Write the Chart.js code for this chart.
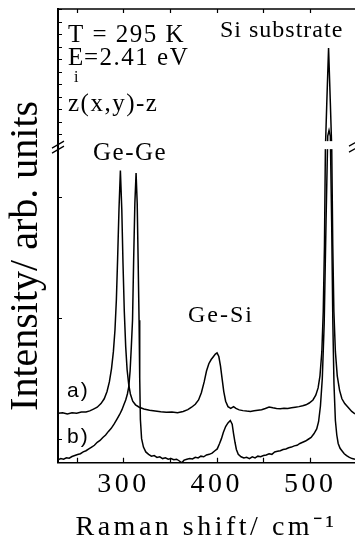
<!DOCTYPE html>
<html>
<head>
<meta charset="utf-8">
<script src="https://cdn.jsdelivr.net/npm/chart.js@4.4.1/dist/chart.umd.min.js"></script>
<style>
  html, body { margin: 0; padding: 0; background: #fff; }
  #raman { display: block; }
</style>
</head>
<body>
<canvas id="raman" width="355" height="544"></canvas>
<script>
// Raman spectra of the two samples (arb. units)
const shiftA = [230, 235, 240, 245, 250, 255, 260, 264, 268, 272, 276, 279.5, 282.5, 285, 287.3, 289.3,
  291, 292.5, 293.8, 295.3, 296.8, 298.3, 299.6, 301, 302.5, 304, 305.7, 307.5, 310, 313, 317, 322,
  328, 334, 340, 346, 352, 358, 364, 369, 373, 377, 380.5, 383.5, 386.5, 389, 391.5, 394, 396.5,
  398.5, 400.3, 402.2, 404, 405.8, 407.5, 409.5, 412, 415, 418, 420.5, 424, 428, 432, 436, 440, 444,
  448, 452, 456, 460, 464, 468, 472, 476, 480, 484, 488, 492, 495.5, 499, 503, 506, 508.5, 510.5,
  512.5, 514, 515.3, 516.3, 517.8, 519.7, 521.6, 523.1, 524.2, 525.4, 527, 529, 531.5, 534, 537, 541,
  544.5, 548];
const intensityA = [0.21, 0.215, 0.205, 0.215, 0.21, 0.22, 0.22, 0.23, 0.245, 0.26, 0.29, 0.33, 0.39, 0.47, 0.58, 0.72,
  0.9, 1.15, 1.48, 1.9, 2.22, 1.9, 1.45, 1.05, 0.76, 0.57, 0.45, 0.37, 0.31, 0.28, 0.26, 0.245,
  0.235, 0.228, 0.222, 0.218, 0.22, 0.215, 0.225, 0.24, 0.26, 0.285, 0.32, 0.38, 0.47, 0.56, 0.62, 0.655, 0.68,
  0.7, 0.71, 0.68, 0.6, 0.49, 0.39, 0.31, 0.265, 0.25, 0.265, 0.25, 0.238, 0.232, 0.228, 0.225, 0.23, 0.235,
  0.24, 0.25, 0.262, 0.255, 0.25, 0.248, 0.252, 0.25, 0.255, 0.26, 0.265, 0.272, 0.28, 0.295, 0.32, 0.36, 0.42, 0.52,
  0.72, 1.05, 1.6, 2.4, 5.5, 9.88, 5.5, 2.4, 1.6, 1.05, 0.72, 0.52, 0.4, 0.33, 0.29, 0.255,
  0.225, 0.205];

const shiftB = [230, 233, 236, 239, 242, 245, 248, 251, 254, 257, 260, 263, 266, 269, 272, 275, 278, 281,
  284, 287, 290, 293, 296, 298.5, 300.5, 302.5, 304.3, 305.8, 307.2, 308.5, 309.8, 311, 312.3, 313.6,
  314.8, 315.8, 316.8, 317.5, 318.2, 319.5, 321.5, 324, 327, 330, 333, 336, 339, 342, 345, 348, 351,
  354, 357, 360, 362.5, 365, 368, 371, 374, 377, 380, 383, 386, 389, 392, 395, 398, 400.5, 403, 405,
  407, 409.5, 412, 414.5, 416.5, 418, 419.5, 421, 423, 426, 429, 432, 435, 438, 441, 444, 447, 450,
  453, 456, 459, 462, 465, 468, 471, 474, 477, 480, 483, 486, 489, 492, 495, 498, 501, 504, 507, 509,
  511, 513, 515, 517, 518.8, 520.2, 521.6, 523, 524.3, 525.5, 527, 528.5, 530, 532, 534, 536.5, 539,
  542, 545, 548];
const intensityB = [-0.175, -0.165, -0.17, -0.158, -0.162, -0.148, -0.14, -0.132, -0.125, -0.11, -0.1, -0.085, -0.07, -0.055, -0.03, -0.015, 0.01, 0.03,
  0.06, 0.085, 0.12, 0.16, 0.2, 0.24, 0.28, 0.32, 0.37, 0.43, 0.56, 0.76, 0.98, 1.48, 1.95, 2.2,
  1.95, 1.48, 0.98, 0.5, 0.16, 0.0, -0.07, -0.11, -0.13, -0.145, -0.14, -0.155, -0.15, -0.165, -0.158, -0.17, -0.165,
  -0.175, -0.17, -0.185, -0.2, -0.178, -0.17, -0.165, -0.168, -0.155, -0.16, -0.145, -0.15, -0.135, -0.13, -0.12, -0.1, -0.085, -0.04, 0.0,
  0.05, 0.1, 0.13, 0.15, 0.12, 0.04, -0.03, -0.09, -0.13, -0.15, -0.16, -0.155, -0.165, -0.15, -0.16, -0.145, -0.15, -0.14,
  -0.135, -0.125, -0.13, -0.11, -0.105, -0.1, -0.09, -0.085, -0.075, -0.07, -0.06, -0.055, -0.04, -0.03, -0.02, -0.005, 0.01, 0.04, 0.08, 0.14,
  0.27, 0.5, 0.95, 1.8, 2.85, 3.3, 2.85, 1.8, 0.95, 0.45, 0.15, 0.03, -0.04, -0.08, -0.1, -0.125, -0.14,
  -0.155, -0.165, -0.17];

// axes
const xTickValues = [250, 300, 350, 400, 450, 500];
const xTickLabels = ['', '300', '', '400', '', '500'];
const yTickValues = [0, 1, 2, 3, 4, 5, 6, 7, 8, 9, 10, 11, 12, 13];
const yBreakLow = 2.43;   // top of the lower part of the broken axis
const yBreakHigh = 2.12;  // bottom of the compressed upper part
const breakFraction = 0.7;

// y axis with a break: linear below, compressed above
class BrokenScale extends Chart.LinearScale {
  buildTicks() {
    return yTickValues.map(value => ({ value }));
  }
  getPixelForValue(value) {
    const h = this.bottom - this.top;
    const lowH = h * breakFraction;
    if (value <= yBreakLow) {
      return this.bottom - (value - this.min) / (yBreakLow - this.min) * lowH;
    }
    return this.bottom - lowH - (value - yBreakHigh) / (this.max - yBreakHigh) * (h - lowH);
  }
  getValueForPixel(pixel) {
    const h = this.bottom - this.top;
    const lowH = h * breakFraction;
    const fromBottom = this.bottom - pixel;
    if (fromBottom <= lowH) {
      return this.min + fromBottom / lowH * (yBreakLow - this.min);
    }
    return yBreakHigh + (fromBottom - lowH) / (h - lowH) * (this.max - yBreakHigh);
  }
}
BrokenScale.id = 'broken';
BrokenScale.defaults = Chart.LinearScale.defaults;
Chart.register(BrokenScale);

const notes = [
  { text: 'T = 295 K', x: 68, y: 42, font: '25px "Liberation Serif"', spacing: '1.5px' },
  { text: 'E', x: 68, y: 65, font: '25px "Liberation Serif"', spacing: '0px' },
  { text: 'i', x: 74, y: 82, font: '16px "Liberation Serif"', spacing: '0px' },
  { text: '=2.41 eV', x: 84, y: 65, font: '25px "Liberation Serif"', spacing: '1.5px' },
  { text: 'z(x,y)-z', x: 68, y: 111, font: '25px "Liberation Serif"', spacing: '1.5px' },
  { text: 'Si substrate', x: 220, y: 37, font: '24px "Liberation Serif"', spacing: '1px' },
  { text: 'Ge-Ge', x: 93, y: 160, font: '25px "Liberation Serif"', spacing: '1.5px' },
  { text: 'Ge-Si', x: 188, y: 322, font: '24px "Liberation Serif"', spacing: '2px' },
  { text: 'a)', x: 67, y: 397, font: '21px "Liberation Sans"', spacing: '2px' },
  { text: 'b)', x: 67, y: 443, font: '21px "Liberation Sans"', spacing: '2px' }
];

const decorPlugin = {
  id: 'ramanDecor',
  beforeDraw(chart) {
    // the x axis text in the original is set wide
    const sx = chart.scales.x;
    if (sx._spaced) return;
    sx._spaced = true;
    ['drawLabels', 'drawTitle'].forEach(name => {
      const orig = sx[name];
      sx[name] = function (...args) {
        this.ctx.save();
        this.ctx.letterSpacing = '3.5px';
        orig.apply(this, args);
        this.ctx.restore();
      };
    });
  },
  afterDatasetsDraw(chart) {
    const { ctx, chartArea: a, scales: { x, y } } = chart;
    ctx.save();
    ctx.strokeStyle = '#000';
    ctx.lineWidth = 1.2;
    ctx.beginPath();
    xTickValues.forEach(v => {
      const px = Math.round(x.getPixelForValue(v)) + 0.5;
      ctx.moveTo(px, a.bottom); ctx.lineTo(px, a.bottom - 5);
      ctx.moveTo(px, a.top); ctx.lineTo(px, a.top + 4);
    });
    y.ticks.forEach(t => {
      const py = Math.round(y.getPixelForValue(t.value)) + 0.5;
      ctx.moveTo(a.left, py); ctx.lineTo(a.left + 4, py);
    });
    ctx.stroke();

    ctx.lineWidth = 1.5;
    ctx.beginPath();
    ctx.moveTo(a.left - 1, a.top); ctx.lineTo(a.right, a.top);
    ctx.stroke();

    // axis break
    const by = y.getPixelForValue(yBreakLow);
    ctx.fillStyle = '#fff';
    ctx.fillRect(a.left + 2, by - 4, a.right - a.left, 8);
    ctx.lineWidth = 1.2;
    ctx.beginPath();
    ctx.moveTo(a.left - 6, by + 3); ctx.lineTo(a.left + 6, by - 4);
    ctx.moveTo(a.left - 6, by + 8); ctx.lineTo(a.left + 6, by + 1);
    ctx.moveTo(a.right - 6, by + 1); ctx.lineTo(a.right + 3, by - 4);
    ctx.moveTo(a.right - 6, by + 7); ctx.lineTo(a.right + 3, by + 2);
    ctx.stroke();
    ctx.restore();
  },
  afterDraw(chart) {
    const ctx = chart.ctx;
    ctx.save();
    ctx.fillStyle = '#000';
    ctx.textAlign = 'left';
    ctx.textBaseline = 'alphabetic';
    notes.forEach(n => {
      ctx.font = n.font;
      ctx.letterSpacing = n.spacing;
      ctx.fillText(n.text, n.x, n.y);
    });
    ctx.restore();
  }
};

Chart.defaults.font.family = "'Liberation Serif', 'Times New Roman', serif";
Chart.defaults.color = '#000';

new Chart(document.getElementById('raman'), {
  type: 'line',
  data: {
    datasets: [
      {
        label: 'a)',
        data: shiftA.map((s, i) => ({ x: s, y: intensityA[i] })),
        borderColor: '#000',
        borderWidth: 1.5,
        pointRadius: 0,
        tension: 0,
        fill: false
      },
      {
        label: 'b)',
        data: shiftB.map((s, i) => ({ x: s, y: intensityB[i] })),
        borderColor: '#000',
        borderWidth: 1.5,
        pointRadius: 0,
        tension: 0,
        fill: false
      }
    ]
  },
  options: {
    responsive: false,
    animation: false,
    devicePixelRatio: 1,
    layout: { padding: { top: 9 } },
    plugins: {
      legend: { display: false },
      tooltip: { enabled: false }
    },
    scales: {
      x: {
        type: 'linear',
        min: 230,
        max: 548,
        afterBuildTicks: scale => { scale.ticks = xTickValues.map(value => ({ value })); },
        ticks: {
          autoSkip: false,
          maxRotation: 0,
          padding: 5,
          color: '#000',
          font: { size: 28 },
          callback: value => xTickLabels[xTickValues.indexOf(value)] ?? ''
        },
        grid: { display: false, drawTicks: false },
        border: { display: true, color: '#000', width: 1.5 },
        title: {
          display: true,
          text: 'Raman shift/ cm\u207B\u00B9',
          color: '#000',
          font: { size: 28 },
          padding: { top: 4, bottom: 0 }
        }
      },
      y: {
        type: 'broken',
        min: -0.2,
        max: 13,
        ticks: { display: false },
        grid: { display: false, drawTicks: false },
        border: { display: true, color: '#000', width: 2 },
        title: {
          display: true,
          text: 'Intensity/ arb. units    ',
          color: '#000',
          font: { size: 40 },
          padding: { top: 2.5, bottom: 7.5 }
        }
      }
    }
  },
  plugins: [decorPlugin]
});
</script>
</body>
</html>
